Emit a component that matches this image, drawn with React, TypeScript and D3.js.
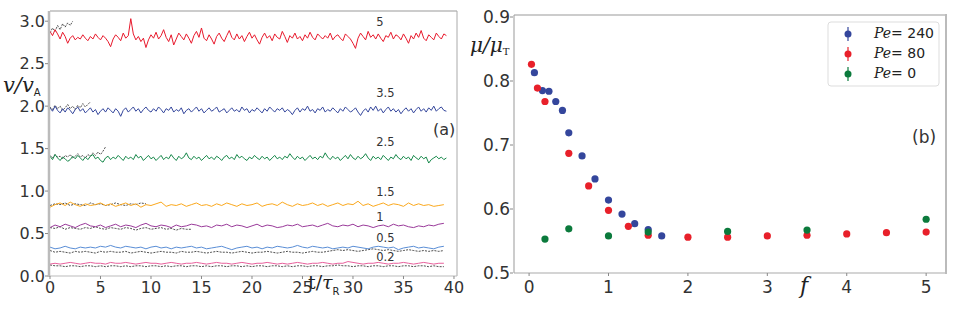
import React from "react";
import * as d3 from "d3";

// ---- panel (a): velocity time series ----
const dtFine = 0.25;
const dt = 0.5;
const f5 = [
  2.88,2.83,2.90,2.85,2.79,2.87,2.82,2.74,2.80,2.83,2.78,2.81,2.79,2.84,2.80,2.77,2.82,2.79,2.85,2.81,
  2.78,2.83,2.80,2.76,2.70,2.79,2.84,2.81,2.77,2.86,2.80,2.83,3.03,2.85,2.78,2.82,2.76,2.80,2.69,2.78,
  2.84,2.80,2.87,2.79,2.83,2.90,2.81,2.76,2.84,2.72,2.79,2.86,2.82,2.78,2.85,2.80,2.74,2.83,2.88,2.81,
  2.92,2.80,2.77,2.84,2.79,2.73,2.82,2.86,2.80,2.76,2.83,2.89,2.81,2.78,2.85,2.79,2.83,2.76,2.82,2.87,
  2.80,2.84,2.78,2.73,2.81,2.86,2.80,2.83,2.77,2.85,2.81,2.79,2.88,2.82,2.75,2.83,2.80,2.86,2.79,2.82,
  2.77,2.84,2.80,2.87,2.81,2.78,2.85,2.82,2.79,2.83,2.80,2.86,2.78,2.82,2.84,2.80,2.77,2.85,2.82,2.79,
  2.74,2.68,2.80,2.86,2.82,2.78,2.88,2.81,2.84,2.79,2.85,2.80,2.76,2.83,2.81,2.87,2.79,2.84,2.82,2.78,
  2.85,2.80,2.74,2.83,2.79,2.86,2.81,2.89,2.80,2.77,2.84,2.81,2.78,2.86,2.82,2.79,2.85,2.83];
const f35 = [
  1.98,1.94,2.00,1.95,1.92,1.97,1.93,1.98,1.95,1.91,1.96,1.99,1.94,1.97,1.92,1.95,1.98,1.93,1.96,1.90,
  1.94,1.97,1.93,1.98,1.95,1.92,1.97,1.94,1.88,1.95,1.98,1.93,1.96,1.99,1.94,1.97,1.92,1.96,1.99,1.95,
  1.93,1.97,1.94,1.99,1.96,1.92,1.97,1.95,1.99,1.93,1.96,1.94,1.98,1.91,1.95,1.97,1.93,1.96,1.99,1.94,
  1.97,1.92,1.95,1.98,1.94,1.96,1.99,1.93,1.95,1.97,1.92,1.95,1.98,1.94,1.96,1.93,1.99,1.95,1.97,1.92,
  1.96,1.94,1.98,1.95,1.92,1.97,1.94,1.99,1.96,1.93,1.97,1.95,1.98,1.93,1.96,1.94,1.90,1.95,1.98,1.93,
  1.97,1.95,2.00,1.94,1.96,1.92,1.97,1.95,1.99,1.93,1.96,1.94,1.98,1.95,1.92,1.97,1.94,1.99,1.96,1.93,
  1.95,1.98,1.93,1.89,1.94,1.97,1.93,1.99,1.95,2.00,1.94,1.97,1.92,1.96,1.99,1.94,1.97,1.93,1.96,1.91,
  1.95,1.98,1.94,1.97,1.92,1.96,1.99,1.94,1.97,1.93,1.98,1.95,2.00,1.94,1.97,1.99,1.95,1.94];
const f25 = [
  1.41,1.37,1.43,1.39,1.36,1.40,1.38,1.35,1.37,1.41,1.38,1.42,1.39,1.36,1.40,1.37,1.41,1.43,1.38,1.40,
  1.36,1.34,1.39,1.41,1.37,1.40,1.38,1.42,1.39,1.36,1.41,1.38,1.40,1.37,1.43,1.39,1.41,1.36,1.39,1.42,
  1.38,1.40,1.36,1.39,1.42,1.37,1.40,1.38,1.43,1.39,1.36,1.41,1.38,1.40,1.45,1.39,1.37,1.41,1.38,1.40,
  1.36,1.39,1.42,1.38,1.40,1.37,1.41,1.39,1.36,1.40,1.42,1.38,1.40,1.37,1.43,1.39,1.41,1.38,1.36,1.40,
  1.38,1.42,1.39,1.37,1.41,1.38,1.40,1.36,1.39,1.42,1.38,1.40,1.37,1.41,1.39,1.44,1.40,1.37,1.41,1.38,
  1.40,1.36,1.39,1.42,1.38,1.40,1.37,1.41,1.39,1.45,1.40,1.37,1.41,1.38,1.40,1.36,1.39,1.42,1.38,1.43,
  1.39,1.37,1.41,1.38,1.40,1.44,1.39,1.36,1.41,1.38,1.40,1.37,1.42,1.39,1.36,1.40,1.38,1.43,1.39,1.37,
  1.41,1.38,1.40,1.36,1.42,1.39,1.37,1.41,1.38,1.40,1.33,1.37,1.39,1.41,1.38,1.40,1.37,1.39];
const f15 = [0.81,0.84,0.86,0.83,0.87,0.84,0.82,0.85,0.83,0.84,0.86,0.83,0.85,0.82,0.84,0.86,0.83,0.85,0.81,0.84,0.83,0.85,0.87,0.82,0.84,0.83,0.85,0.82,0.84,0.86,0.83,0.84,0.82,0.85,0.83,0.86,0.84,0.82,0.85,0.83,0.84,0.86,0.82,0.84,0.85,0.83,0.87,0.84,0.82,0.85,0.83,0.84,0.86,0.83,0.85,0.82,0.84,0.86,0.83,0.85,0.84,0.88,0.83,0.85,0.82,0.84,0.86,0.83,0.85,0.84,0.82,0.86,0.83,0.85,0.83,0.84,0.82,0.83,0.84];
const f1 = [0.57,0.60,0.58,0.61,0.59,0.57,0.60,0.62,0.59,0.58,0.60,0.57,0.59,0.61,0.58,0.60,0.59,0.57,0.60,0.62,0.59,0.58,0.60,0.59,0.57,0.60,0.58,0.59,0.61,0.60,0.58,0.59,0.57,0.60,0.59,0.61,0.58,0.60,0.59,0.57,0.59,0.61,0.58,0.60,0.59,0.57,0.58,0.60,0.59,0.61,0.58,0.59,0.60,0.58,0.60,0.62,0.59,0.58,0.60,0.59,0.61,0.58,0.60,0.59,0.57,0.59,0.60,0.58,0.61,0.59,0.60,0.58,0.57,0.59,0.58,0.60,0.59,0.61,0.62];
const f05 = [0.34,0.32,0.33,0.35,0.33,0.32,0.34,0.33,0.34,0.33,0.35,0.34,0.36,0.34,0.33,0.35,0.34,0.33,0.34,0.32,0.34,0.35,0.33,0.34,0.32,0.34,0.33,0.34,0.35,0.33,0.34,0.32,0.33,0.34,0.35,0.33,0.31,0.33,0.34,0.35,0.33,0.34,0.32,0.34,0.33,0.35,0.34,0.33,0.34,0.36,0.34,0.33,0.35,0.34,0.33,0.34,0.32,0.33,0.34,0.33,0.35,0.34,0.33,0.32,0.34,0.35,0.34,0.33,0.34,0.31,0.33,0.34,0.35,0.33,0.34,0.33,0.32,0.34,0.35];
const f02 = [0.14,0.15,0.14,0.15,0.16,0.15,0.14,0.15,0.16,0.15,0.15,0.14,0.16,0.15,0.15,0.16,0.15,0.14,0.15,0.16,0.15,0.15,0.14,0.15,0.16,0.15,0.14,0.15,0.15,0.16,0.15,0.14,0.15,0.16,0.15,0.15,0.14,0.15,0.16,0.15,0.14,0.15,0.15,0.16,0.15,0.14,0.15,0.14,0.15,0.16,0.15,0.14,0.15,0.15,0.16,0.15,0.14,0.15,0.15,0.17,0.16,0.15,0.14,0.15,0.15,0.16,0.15,0.14,0.15,0.15,0.16,0.15,0.14,0.15,0.16,0.15,0.14,0.15,0.15];

// black dashed reference curves
const d5 = [2.86,2.92,2.88,2.95,2.90,2.97,2.93,2.98,2.95,3.00];
const d35 = [1.99,1.96,2.01,1.97,2.00,1.95,1.98,2.02,1.97,2.00,1.96,2.01,1.98,2.03,1.99,2.02,2.05];
const d25 = [1.42,1.39,1.43,1.40,1.41,1.38,1.42,1.40,1.43,1.39,1.41,1.44,1.40,1.42,1.39,1.43,1.41,1.45,1.42,1.46,1.43,1.47,1.52];
const d15 = [0.83,0.85,0.84,0.86,0.83,0.85,0.84,0.83,0.86,0.84,0.85,0.83,0.84,0.86,0.84,0.83,0.85,0.84,0.86,0.85];
const d1 = [0.57,0.56,0.58,0.55,0.57,0.56,0.55,0.57,0.56,0.58,0.56,0.55,0.57,0.56,0.55,0.57,0.56,0.54,0.56,0.57,0.55,0.56,0.57,0.55,0.56,0.54,0.56,0.55,0.55];
const d05 = [0.30,0.28,0.29,0.28,0.27,0.29,0.28,0.29,0.28,0.27,0.29,0.28,0.29,0.28,0.28,0.29,0.27,0.28,0.29,0.28,0.27,0.28,0.29,0.28,0.28,0.27,0.29,0.28,0.28,0.29,0.28,0.27,0.28,0.29,0.28,0.28,0.27,0.28,0.29,0.28,0.27,0.28,0.28,0.29,0.28,0.27,0.28,0.29,0.28,0.28,0.27,0.28,0.29,0.28,0.28,0.29,0.30,0.31,0.30,0.31,0.30,0.29,0.30,0.31,0.32,0.31,0.30,0.31,0.30,0.29,0.30,0.31,0.30,0.29,0.30,0.29,0.30,0.29,0.30];
const d02 = [0.13,0.12,0.12,0.11,0.12,0.12,0.11,0.12,0.12,0.11,0.12,0.11,0.12,0.12,0.11,0.12,0.11,0.12,0.12,0.11,0.12,0.12,0.11,0.12,0.11,0.12,0.12,0.11,0.12,0.12,0.11,0.12,0.11,0.12,0.12,0.11,0.12,0.12,0.11,0.12,0.11,0.12,0.12,0.11,0.12,0.12,0.11,0.12,0.11,0.12,0.12,0.11,0.12,0.12,0.11,0.12,0.12,0.13,0.12,0.12,0.11,0.12,0.12,0.11,0.12,0.12,0.11,0.12,0.12,0.11,0.12,0.12,0.11,0.12,0.12,0.11,0.12,0.11,0.11];

const seriesA = [
  { label: "5", values: f5, step: dtFine, color: "#e8192c", labelY: 2.94 },
  { label: "3.5", values: f35, step: dtFine, color: "#34469c", labelY: 2.11 },
  { label: "2.5", values: f25, step: dtFine, color: "#16884a", labelY: 1.53 },
  { label: "1.5", values: f15, step: dt, color: "#fba81c", labelY: 0.94 },
  { label: "1", values: f1, step: dt, color: "#9a3a9a", labelY: 0.65 },
  { label: "0.5", values: f05, step: dt, color: "#5a8ed6", labelY: 0.40 },
  { label: "0.2", values: f02, step: dt, color: "#e8609c", labelY: 0.18 },
];
const dashedA = [
  { values: d5, step: 0.25 },
  { values: d35, step: 0.25 },
  { values: d25, step: 0.25 },
  { values: d15, step: 0.5 },
  { values: d1, step: 0.5 },
  { values: d05, step: 0.5 },
  { values: d02, step: 0.5 },
];
const ticksAx = [0, 5, 10, 15, 20, 25, 30, 35, 40];
const ticksAy = [0, 0.5, 1.0, 1.5, 2.0, 2.5, 3.0];

// ---- panel (b): mu / mu_T against f ----
const pe240F = [0.067, 0.168, 0.25, 0.336, 0.42, 0.5, 0.667, 0.83, 1.0, 1.17, 1.33, 1.5, 1.67];
const pe240Mu = [0.813, 0.785, 0.784, 0.768, 0.754, 0.719, 0.683, 0.647, 0.614, 0.592, 0.577, 0.568, 0.558];
const pe80F = [0.03, 0.105, 0.2, 0.5, 0.75, 1.0, 1.25, 1.5, 2.0, 2.5, 3.0, 3.5, 4.0, 4.5, 5.0];
const pe80Mu = [0.826, 0.789, 0.768, 0.687, 0.636, 0.598, 0.573, 0.559, 0.556, 0.556, 0.558, 0.559, 0.561, 0.563, 0.564];
const pe0F = [0.2, 0.5, 1.0, 1.5, 2.5, 3.5, 5.0];
const pe0Mu = [0.553, 0.569, 0.558, 0.564, 0.565, 0.567, 0.584];

const seriesB = [
  { name: "240", f: pe240F, mu: pe240Mu, color: "#34469c" },
  { name: "80", f: pe80F, mu: pe80Mu, color: "#e8202a" },
  { name: "0", f: pe0F, mu: pe0Mu, color: "#0b7a3c" },
];
const ticksBx = [0, 1, 2, 3, 4, 5];
const ticksBy = [0.5, 0.6, 0.7, 0.8, 0.9];

const tickColor = "#333";
const sans = "DejaVu Sans, sans-serif";
const serif = "DejaVu Serif, serif";

export default function App() {
  // panel a
  const xA = d3.scaleLinear().domain([0, 40.3]).range([50, 457]);
  const yA = d3.scaleLinear().domain([0, 3.12]).range([276, 11]);
  const mkLine = (step: number) =>
    d3.line<number>().x((_, i) => xA(i * step)).y((v) => yA(v));

  // panel b
  const xB = d3.scaleLinear().domain([-0.19, 5.25]).range([514, 946]);
  const yB = d3.scaleLinear().domain([0.5, 0.9]).range([273, 17]);

  return (
    <svg width={980} height={317} style={{ position: "absolute", left: 0, top: 0, background: "#fff" }}>
      {/* ===== panel a ===== */}
      <g>
        {dashedA.map((d, i) => (
          <path key={"d" + i} d={mkLine(d.step)(d.values) || ""} fill="none" stroke="#222" strokeWidth={0.8} strokeDasharray="2,1.2" />
        ))}
        {seriesA.map((s) => (
          <path key={s.label} d={mkLine(s.step)(s.values) || ""} fill="none" stroke={s.color} strokeWidth={1} />
        ))}
        {seriesA.map((s) => (
          <text key={"l" + s.label} x={xA(32.3)} y={yA(s.labelY)} fontFamily={sans} fontSize={11.5} fill={tickColor}>
            {s.label}
          </text>
        ))}
        {/* spines */}
        <line x1={xA.range()[0]} x2={xA.range()[1]} y1={11} y2={11} stroke="#999" strokeWidth={1} />
        <line x1={xA.range()[1]} x2={xA.range()[1]} y1={11} y2={276} stroke="#aaa" strokeWidth={1} />
        <line x1={xA.range()[0]} x2={xA.range()[1]} y1={276} y2={276} stroke="#bbb" strokeWidth={1.2} />
        <line x1={49} x2={49} y1={11} y2={277} stroke="#bbb" strokeWidth={2.5} />
        {ticksAy.map((t) => (
          <g key={"ay" + t}>
            <line x1={45} x2={48} y1={yA(t)} y2={yA(t)} stroke="#888" />
            <text x={45} y={yA(t)} dy="0.36em" textAnchor="end" fontFamily={sans} fontSize={16} fill={tickColor}>
              {d3.format(".1f")(t)}
            </text>
          </g>
        ))}
        {ticksAx.map((t) => (
          <g key={"ax" + t}>
            <line x1={xA(t)} x2={xA(t)} y1={276} y2={279} stroke="#888" />
            <text x={xA(t)} y={293} textAnchor="middle" fontFamily={sans} fontSize={16} fill={tickColor}>
              {t}
            </text>
          </g>
        ))}
        <text x={433} y={135} fontFamily={sans} fontSize={16} fill={tickColor}>(a)</text>
        {/* y label v/v_A */}
        <text x={3} y={92} fontFamily={serif} fontStyle="italic" fontSize={21} fill="#222">
          v/v<tspan fontFamily={sans} fontStyle="normal" fontSize={10} dy={4}>A</tspan>
        </text>
        {/* x label t/tau_R */}
        <text x={308} y={289} fontFamily={serif} fontSize={19} fill="#222">
          t/<tspan fontStyle="italic">τ</tspan>
          <tspan fontFamily={sans} fontSize={10} dy={6}>R</tspan>
        </text>
      </g>

      {/* ===== panel b ===== */}
      <g>
        {seriesB.map((s) =>
          s.f.map((f, i) => (
            <circle key={s.name + i} cx={xB(f)} cy={yB(s.mu[i])} r={3.6} fill={s.color} />
          ))
        )}
        <line x1={514} x2={946} y1={15} y2={15} stroke="#999" strokeWidth={1} />
        <line x1={514} x2={514} y1={15} y2={273} stroke="#999" strokeWidth={1} />
        <line x1={514} x2={946} y1={273} y2={273} stroke="#aaa" strokeWidth={1.2} />
        <line x1={946} x2={946} y1={14} y2={274} stroke="#bbb" strokeWidth={2} />
        {ticksBy.map((t) => (
          <g key={"by" + t}>
            <line x1={510} x2={513} y1={yB(t)} y2={yB(t)} stroke="#888" />
            <text x={510} y={yB(t)} dy="0.36em" textAnchor="end" fontFamily={sans} fontSize={17} fill={tickColor}>
              {d3.format(".1f")(t)}
            </text>
          </g>
        ))}
        {ticksBx.map((t) => (
          <g key={"bx" + t}>
            <line x1={xB(t)} x2={xB(t)} y1={273} y2={276} stroke="#888" />
            <text x={xB(t)} y={293} textAnchor="middle" fontFamily={sans} fontSize={17} fill={tickColor}>
              {t}
            </text>
          </g>
        ))}
        <text x={912} y={143} fontFamily={sans} fontSize={17} fill={tickColor}>(b)</text>
        <text x={470} y={52} fontFamily={serif} fontStyle="italic" fontSize={20} fill="#222">
          μ/μ<tspan fontStyle="normal" fontSize={10} dy={3}>T</tspan>
        </text>
        <text x={800} y={293} fontFamily={serif} fontStyle="italic" fontSize={22} fill="#222">f</text>
        {/* legend */}
        <rect x={828} y={22} width={111} height={64} rx={3} fill="#fff" stroke="#ddd" />
        {seriesB.map((s, i) => (
          <g key={"lg" + s.name} transform={`translate(0,${34 + i * 20})`}>
            <line x1={848} x2={848} y1={-7} y2={7} stroke={s.color} strokeWidth={1.2} />
            <circle cx={848} cy={0} r={3.5} fill={s.color} />
            <text x={874} y={4} fontSize={14} fill="#222">
              <tspan fontFamily={serif} fontStyle="italic">Pe</tspan>
              <tspan fontFamily={serif}>=</tspan>
              <tspan fontFamily={sans}> {s.name}</tspan>
            </text>
          </g>
        ))}
      </g>
    </svg>
  );
}
